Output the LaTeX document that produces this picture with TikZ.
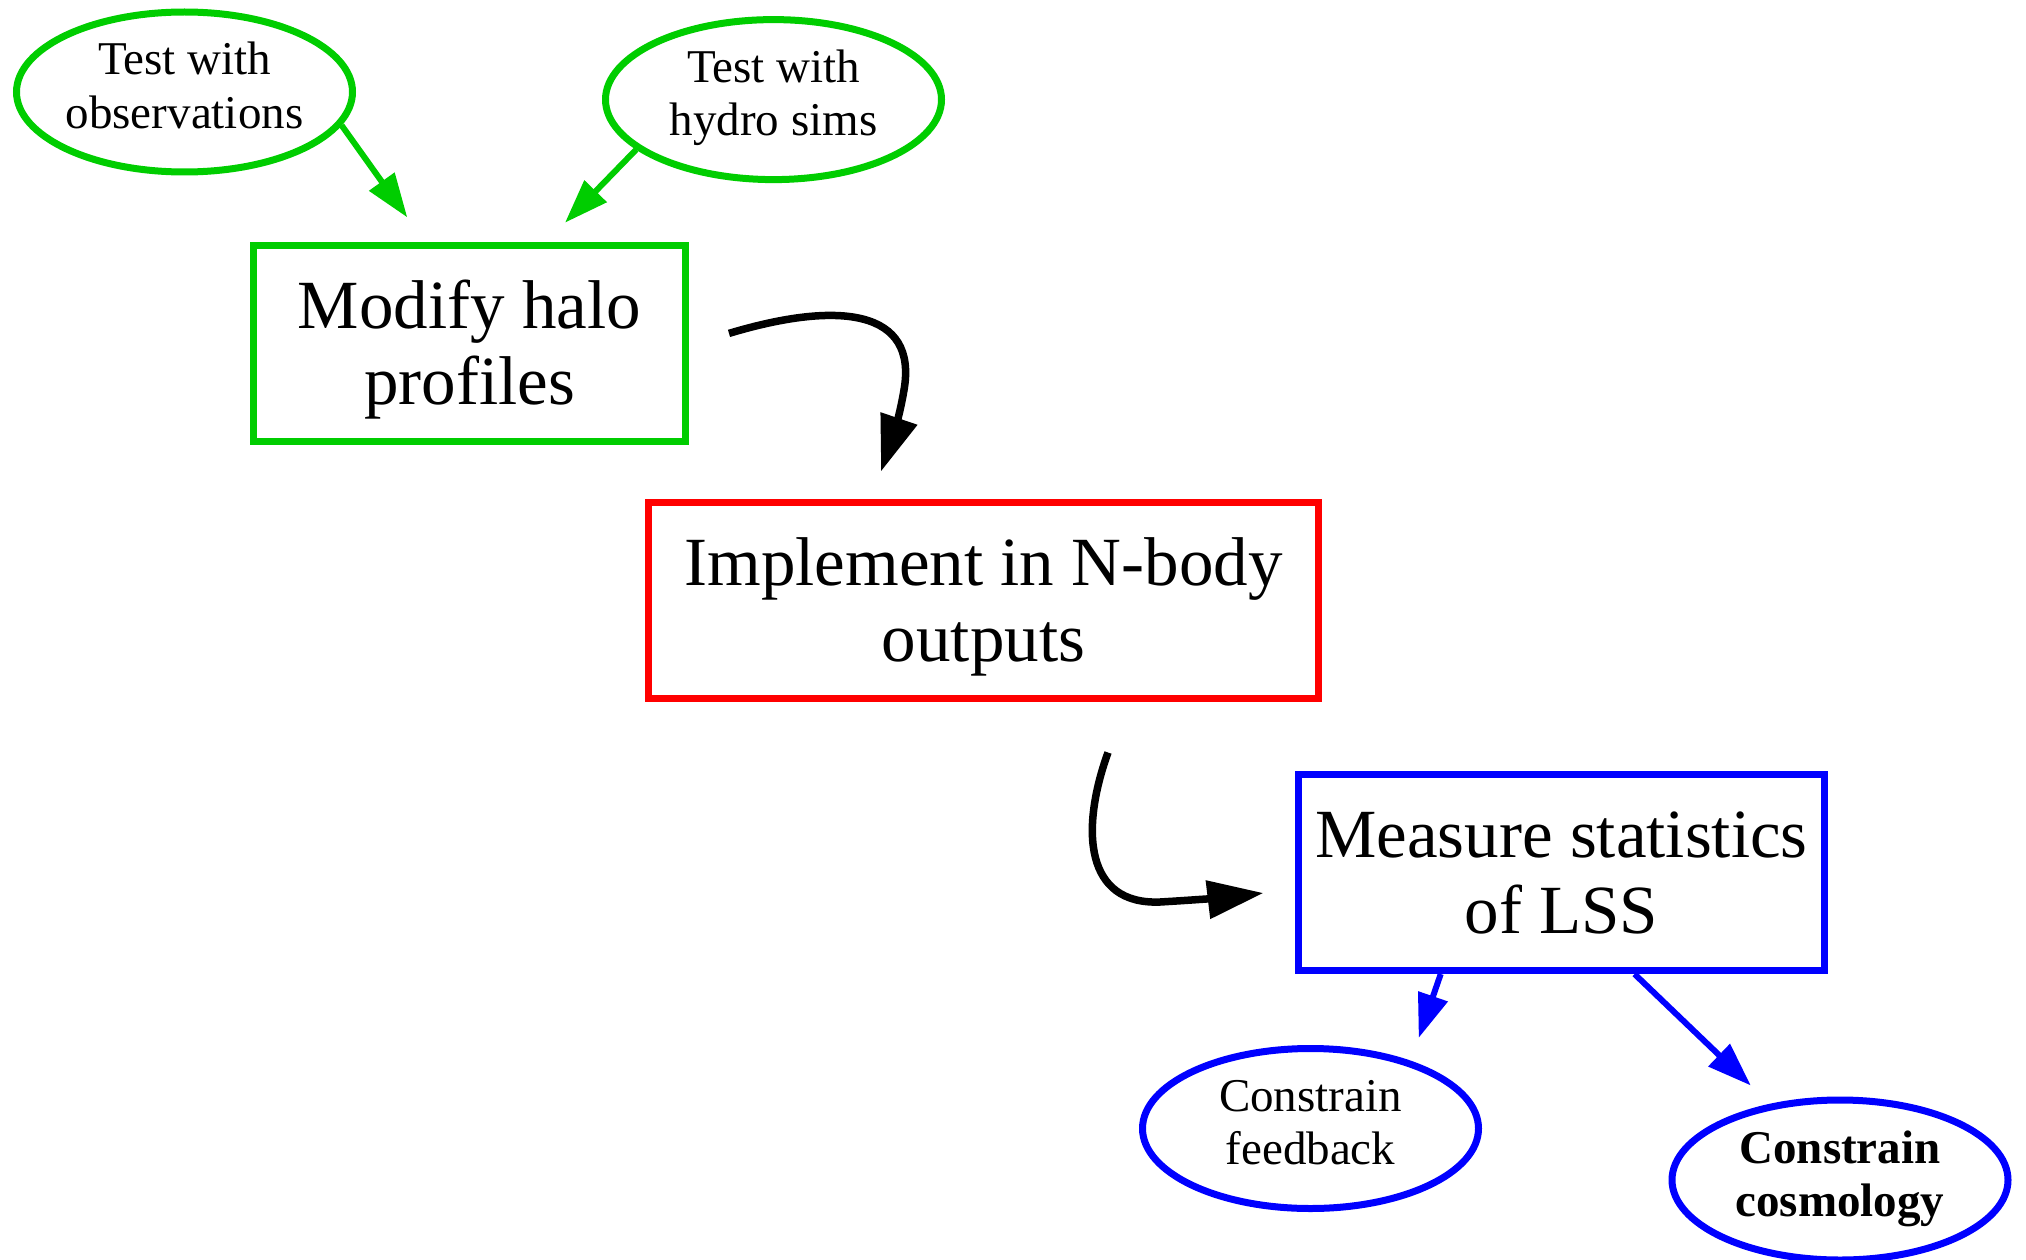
\documentclass[tikz,border=0pt]{standalone}
\usepackage{fontspec}
\setmainfont{Liberation Serif}
\usetikzlibrary{shapes.geometric,arrows.meta,calc}
\definecolor{gvgreen}{RGB}{0,205,0}
\newcommand{\myTop}[1]{\rule{0pt}{#1}}
\newcommand{\myBot}[1]{\rule[-#1]{0pt}{#1}}
\begin{document}
\begin{tikzpicture}[x=1pt,y=-1pt,
  box/.style={draw=#1, rectangle, line width=7pt, align=center, inner sep=0pt, text=black,
    minimum height=196pt, font=\fontsize{69}{76}\selectfont},
  oval/.style={draw=#1, ellipse, line width=7pt, align=center, inner sep=0pt, text=black,
    minimum width=336pt, minimum height=160pt, font=\fontsize{47}{53.4}\selectfont},
  smallarrow/.style={draw=#1, fill=#1, line width=6pt, -{Triangle[length=44pt,width=30pt]}},
  bigarrow/.style={draw=black, line width=7.5pt, -{Triangle[length=56pt,width=37pt]}}
]
\useasboundingbox (0,0) rectangle (2026,1260);

\node[oval=gvgreen] (obs) at (184.5,92) {\myTop{36pt}Test with\\observations\myBot{16.6pt}};
\node[oval=gvgreen] (hyd) at (773.5,99.6) {\myTop{36pt}Test with\\hydro sims\myBot{16.6pt}};
\node[box=gvgreen, minimum width=432pt] (mod) at (469.5,343.4) {\myTop{70pt}Modify halo\\profiles\myBot{24pt}};
\node[box=red, minimum width=670pt] (imp) at (983.5,600) {\myTop{70pt}Implement in N-body\\outputs\myBot{24pt}};
\node[box=blue, minimum width=526pt] (mea) at (1561.5,872.5) {\myTop{70pt}Measure statistics\\of LSS\myBot{24pt}};
\node[oval=blue] (fb) at (1310.5,1128.5) {\myTop{36pt}Constrain\\feedback\myBot{16.6pt}};
\node[oval=blue] (cos) at (1840,1180) {\myTop{36pt}\textbf{Constrain}\\\textbf{cosmology}\myBot{16.6pt}};

\coordinate (t1) at ($(mod.north)+(-62.2,-24.5)$);
\coordinate (t2) at ($(mod.north)+(95.5,-19.2)$);
\coordinate (s3) at ($(mod.east)+(40,-10)$);
\coordinate (t3) at ($(imp.north)+(-102.5,-27)$);
\coordinate (s4) at ($(imp.south)+(124.5,51)$);
\coordinate (t4) at ($(mea.west)+(-31.5,20.5)$);
\coordinate (s5) at ($(mea.south)+(-120.8,0)$);
\coordinate (s6) at ($(mea.south)+(73,0)$);
\coordinate (t5) at ($(fb.north)+(108.2,-7.1)$);
\coordinate (t6) at ($(cos.north)+(-89.2,-11)$);

\draw[smallarrow=gvgreen] (obs.-12) -- (t1);
\draw[smallarrow=gvgreen] (hyd.200.7) -- (t2);
\draw[bigarrow] (s3) .. controls (840,300) and (918,310) .. (904,390)
  .. controls (899,420) and (890,445) .. (t3);
\draw[bigarrow] (s4) .. controls (1080,830) and (1085,905) .. (1160,902)
  .. controls (1195,900) and (1230,897) .. (t4);
\draw[smallarrow=blue] (s5) -- (t5);
\draw[smallarrow=blue] (s6) -- (t6);
\end{tikzpicture}
\end{document}
